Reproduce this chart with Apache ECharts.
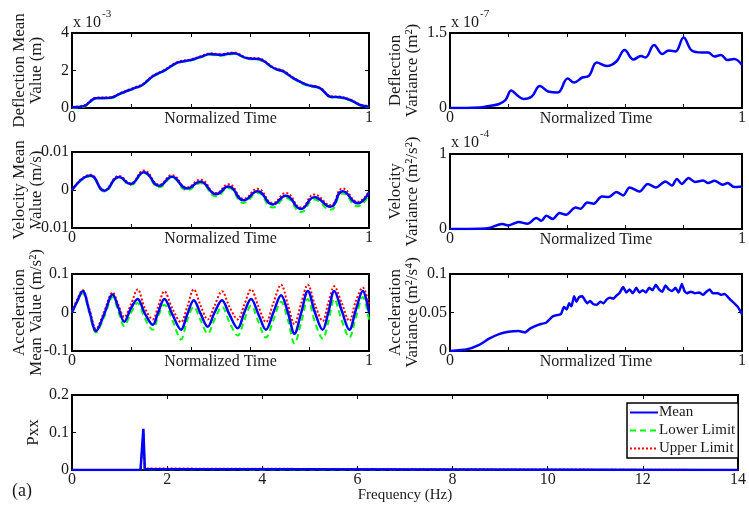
<!DOCTYPE html>
<html><head><meta charset="utf-8">
<script src="https://cdn.jsdelivr.net/npm/echarts@6/dist/echarts.min.js"></script>
<style>html,body{margin:0;padding:0;background:#fff}#c{width:749px;height:506px}</style>
</head><body><div id="c"></div>
<script>
// ---------- DATA ----------
var tDef = [0,0.04,0.08,0.13,0.164,0.208,0.237,0.27,0.31,0.355,0.4,0.436,0.466,0.5,0.545,0.59,0.629,0.68,0.713,0.746,0.791,0.836,0.87,0.903,0.936,0.97,1];
var defMean = [0.04,0.1,0.52,0.55,0.78,1.05,1.23,1.67,1.99,2.42,2.56,2.74,2.88,2.83,2.92,2.65,2.61,2.12,1.94,1.58,1.23,1.05,0.6,0.57,0.43,0.16,0.07]; // x1e-3 m
var defLow  = [0.02,0.07,0.49,0.52,0.75,1.02,1.2,1.64,1.96,2.39,2.53,2.71,2.84,2.79,2.88,2.62,2.57,2.09,1.9,1.55,1.2,1.02,0.57,0.54,0.4,0.13,0.04];
var defUp   = [0.06,0.13,0.55,0.58,0.81,1.08,1.26,1.7,2.02,2.45,2.59,2.77,2.92,2.87,2.96,2.68,2.65,2.15,1.98,1.61,1.26,1.08,0.63,0.6,0.46,0.19,0.1];

var tDefVar = [0,0.1,0.134,0.168,0.19,0.21,0.229,0.252,0.28,0.308,0.336,0.369,0.403,0.425,0.453,0.475,0.503,0.537,0.57,0.598,0.628,0.654,0.669,0.699,0.727,0.749,0.772,0.8,0.828,0.861,0.884,0.906,0.928,0.95,0.973,1];
var defVar  = [0,0.01,0.04,0.08,0.16,0.35,0.26,0.18,0.23,0.44,0.33,0.31,0.59,0.51,0.61,0.64,0.91,0.84,0.93,1.16,0.97,1.04,1.01,1.26,1.08,1.15,1.13,1.41,1.15,1.11,1.11,1.03,1.06,0.96,0.98,0.86]; // x1e-7

var tVel = [0,0.062,0.109,0.158,0.197,0.242,0.294,0.336,0.387,0.432,0.485,0.527,0.578,0.625,0.676,0.72,0.771,0.816,0.87,0.911,0.962,1];
var velMean = [0,0.0038,-0.0002,0.0034,0.0016,0.0047,0.0011,0.0035,0.0004,0.0022,-0.0011,0.0009,-0.0027,-0.0003,-0.0038,-0.0015,-0.005,-0.0019,-0.0044,-0.0003,-0.0035,-0.0006];
var velLow  = [0,0.0036,-0.0004,0.0032,0.0013,0.0044,0.0007,0.0032,-0.0001,0.0018,-0.0017,0.0005,-0.0034,-0.0008,-0.0046,-0.0021,-0.0058,-0.0025,-0.0052,-0.0009,-0.0043,-0.0011];
var velUp   = [0,0.004,0,0.0037,0.0018,0.0051,0.0014,0.0039,0.0007,0.0027,-0.0008,0.0015,-0.0023,0.0003,-0.0034,-0.0008,-0.0046,-0.0012,-0.004,0.0004,-0.0031,-0.0003];

var tVelVar = [0,0.1,0.134,0.179,0.2,0.235,0.265,0.296,0.313,0.33,0.352,0.375,0.397,0.43,0.447,0.47,0.492,0.52,0.543,0.57,0.593,0.615,0.649,0.677,0.705,0.738,0.76,0.777,0.794,0.817,0.839,0.867,0.884,0.906,0.934,0.951,0.973,1];
var velVar  = [0,0.003,0.013,0.067,0.048,0.093,0.07,0.147,0.11,0.177,0.133,0.213,0.19,0.288,0.27,0.355,0.337,0.435,0.427,0.493,0.448,0.555,0.5,0.6,0.555,0.635,0.58,0.667,0.6,0.68,0.627,0.648,0.613,0.644,0.59,0.613,0.56,0.568]; // x1e-4

var tAcc = [0,0.018,0.036,0.058,0.081,0.108,0.137,0.155,0.176,0.198,0.221,0.245,0.272,0.29,0.311,0.338,0.367,0.388,0.41,0.433,0.457,0.48,0.505,0.53,0.558,0.58,0.603,0.628,0.653,0.678,0.704,0.727,0.749,0.772,0.794,0.818,0.844,0.863,0.883,0.908,0.934,0.955,0.979,1];
var accMean = [0,0.03,0.056,0.005,-0.048,-0.005,0.047,0.015,-0.024,0.01,0.035,-0.002,-0.032,0,0.035,-0.005,-0.045,-0.005,0.032,-0.003,-0.037,0,0.032,-0.005,-0.041,0,0.035,-0.005,-0.045,0,0.045,0,-0.055,0,0.056,0,-0.045,0,0.056,0.005,-0.045,0.005,0.056,0];
var accLow  = [0,0.028,0.05,0,-0.052,-0.012,0.04,0.005,-0.035,-0.002,0.025,-0.015,-0.045,-0.01,0.02,-0.02,-0.07,-0.02,0.015,-0.02,-0.055,-0.018,0.015,-0.025,-0.06,-0.02,0.018,-0.025,-0.065,-0.02,0.028,-0.02,-0.08,-0.025,0.035,-0.025,-0.068,-0.025,0.035,-0.02,-0.065,-0.015,0.04,-0.02];
var accUp   = [0.002,0.035,0.058,0.01,-0.043,0.002,0.052,0.022,-0.012,0.02,0.06,0.012,-0.018,0.015,0.055,0.01,-0.025,0.015,0.06,0.018,-0.018,0.018,0.055,0.015,-0.018,0.02,0.06,0.015,-0.025,0.025,0.072,0.02,-0.03,0.025,0.072,0.02,-0.022,0.025,0.068,0.025,-0.022,0.028,0.065,0.02];

var tAccVar = [0,0.056,0.1,0.134,0.168,0.2,0.235,0.257,0.274,0.302,0.33,0.352,0.38,0.39,0.4,0.408,0.416,0.425,0.433,0.442,0.453,0.462,0.47,0.48,0.49,0.503,0.515,0.526,0.537,0.548,0.56,0.57,0.58,0.593,0.604,0.615,0.626,0.638,0.649,0.66,0.671,0.682,0.693,0.705,0.716,0.727,0.738,0.749,0.76,0.772,0.783,0.794,0.803,0.811,0.825,0.839,0.853,0.867,0.878,0.889,0.9,0.917,0.93,0.94,0.962,0.984,1];
var accVar  = [0,0.002,0.008,0.016,0.022,0.025,0.026,0.024,0.029,0.034,0.037,0.045,0.048,0.057,0.054,0.062,0.058,0.071,0.064,0.07,0.071,0.066,0.062,0.065,0.061,0.06,0.064,0.062,0.067,0.069,0.068,0.072,0.075,0.083,0.076,0.08,0.075,0.082,0.076,0.079,0.076,0.082,0.079,0.086,0.08,0.077,0.085,0.08,0.078,0.082,0.076,0.087,0.078,0.075,0.077,0.075,0.076,0.073,0.077,0.08,0.075,0.075,0.073,0.074,0.066,0.058,0.048];

var freq    = [0,1.44,1.47,1.5,1.53,1.56,14];
var pxxMean = [0,0,0.003,0.11,0.003,0,0];
var pxxLow  = [0,0,0.002,0.09,0.002,0,0];
var pxxUp   = [0,0,0.004,0.1,0.004,0,0];

var legendNames = ['Mean','Lower Limit','Upper Limit'];
// ---------- CHART ----------
var FONT = "'Liberation Serif', 'Times New Roman', serif";
var TXT = '#1a1a1a';
function zip(a,b){ return a.map(function(x,i){ return [x,b[i]]; }); }
var grids = [
 {left:72,top:33,width:297,height:75},
 {left:450,top:33,width:298,height:75},
 {left:72,top:152,width:297,height:76},
 {left:450,top:154,width:298,height:75},
 {left:72,top:274,width:297,height:77},
 {left:450,top:274,width:298,height:77},
 {left:72,top:395,width:676,height:75}
];
var ySpec = [
 {min:0,max:4,interval:2,name:'Deflection Mean\nValue (m)'},
 {min:0,max:1.5,interval:1.5,name:'Deflection\nVariance (m²)'},
 {min:-0.01,max:0.01,interval:0.01,name:'Velocity Mean\nValue (m/s)'},
 {min:0,max:1,interval:1,name:'Velocity\nVariance (m²/s²)'},
 {min:-0.1,max:0.1,interval:0.1,name:'Acceleration\nMean Value (m/s²)'},
 {min:0,max:0.1,interval:0.05,name:'Acceleration\nVariance (m²/s⁴)'},
 {min:0,max:0.2,interval:0.1,name:'Pxx'}
];
var tick = {show:true,inside:true,length:4,lineStyle:{color:'#000',width:1}};
var xAxes=[], yAxes=[];
grids.forEach(function(g,i){
  var isF = i===6;
  xAxes.push({type:'value',gridIndex:i,position:'bottom',min:0,max:isF?14:1,interval:isF?2:0.2,
    axisLine:{show:false,onZero:false},axisTick:tick,splitLine:{show:false},
    axisLabel:{margin:2,fontFamily:FONT,fontSize:16,color:TXT,
      formatter:isF?function(v){return String(v);}:function(v){return Math.abs(v)<1e-9?'0':(Math.abs(v-1)<1e-9?'1':'');}},
    name:isF?'Frequency (Hz)':'Normalized Time',nameLocation:'middle',nameGap:isF?18:3,nameMoveOverlap:false,
    nameTextStyle:{fontFamily:FONT,fontSize:isF?15:16,color:TXT}});
  xAxes.push({type:'value',gridIndex:i,position:'top',min:0,max:isF?14:1,interval:isF?2:0.2,
    axisLine:{show:false,onZero:false},axisTick:tick,axisLabel:{show:false},splitLine:{show:false}});
  var s=ySpec[i];
  yAxes.push({type:'value',gridIndex:i,position:'left',min:s.min,max:s.max,interval:s.interval,
    axisLine:{show:false,onZero:false},axisTick:tick,splitLine:{show:false},
    axisLabel:{margin:3,fontFamily:FONT,fontSize:16,color:TXT},
    name:s.name,nameLocation:'middle',nameRotate:90,nameGap:i===6?30:(i%2?29:27),nameMoveOverlap:false,
    nameTextStyle:{fontFamily:FONT,fontSize:17,color:TXT,lineHeight:17}});
  yAxes.push({type:'value',gridIndex:i,position:'right',min:s.min,max:s.max,interval:s.interval,
    axisLine:{show:false,onZero:false},axisTick:tick,axisLabel:{show:false},splitLine:{show:false}});
});
var BLUE='#0000ff', GREEN='#00ff00', RED='#ff0000';
function trio(gi, t, lo, up, mean, smooth, names){
  var xi=gi*2, yi=gi*2;
  return [
    {type:'line',name:names?names[1]:'lo'+gi,xAxisIndex:xi,yAxisIndex:yi,data:zip(t,lo),symbol:'none',showSymbol:false,smooth:smooth,
     lineStyle:{color:GREEN,width:2,type:[6,4]},itemStyle:{color:GREEN},z:2},
    {type:'line',name:names?names[2]:'up'+gi,xAxisIndex:xi,yAxisIndex:yi,data:zip(t,up),symbol:'none',showSymbol:false,smooth:smooth,
     lineStyle:{color:RED,width:2,type:[2,2]},itemStyle:{color:RED},z:3},
    {type:'line',name:names?names[0]:'mean'+gi,xAxisIndex:xi,yAxisIndex:yi,data:zip(t,mean),symbol:'none',showSymbol:false,smooth:smooth,
     lineStyle:{color:BLUE,width:2.5},itemStyle:{color:BLUE},z:4}
  ];
}
function single(gi,t,v,smooth){
  return {type:'line',name:'v'+gi,xAxisIndex:gi*2,yAxisIndex:gi*2,data:zip(t,v),symbol:'none',smooth:smooth,
    lineStyle:{color:BLUE,width:2.5},itemStyle:{color:BLUE},z:4};
}
var series = [].concat(
  trio(0,tDef,defLow,defUp,defMean,0.4),
  [single(1,tDefVar,defVar,0.4)],
  trio(2,tVel,velLow,velUp,velMean,0.5),
  [single(3,tVelVar,velVar,0.3)],
  trio(4,tAcc,accLow,accUp,accMean,0.35),
  [single(5,tAccVar,accVar,0.15)],
  trio(6,freq,pxxLow,pxxUp,pxxMean,false,legendNames)
);
function txt(x,y,s,fs){ return {type:'text',left:x,top:y,style:{text:s,fontFamily:FONT,fontSize:fs,fill:TXT}}; }
var option = {
  animation:false,
  backgroundColor:'#fff',
  grid: grids.map(function(g){ return Object.assign({show:true,borderColor:'#000',borderWidth:2,backgroundColor:'transparent',containLabel:false},g); }),
  xAxis:xAxes, yAxis:yAxes, series:series,
  legend:{data:legendNames,orient:'vertical',left:627,top:403,itemGap:3,itemWidth:28,itemHeight:14,
    padding:[2,3,2,2],backgroundColor:'#fff',borderColor:'#000',borderWidth:1.5,
    itemStyle:{opacity:0},
    textStyle:{fontFamily:FONT,fontSize:15,color:TXT,padding:[0,0,0,-4]}},
  graphic:[
    txt(73,15,'x 10',16), txt(102,9,'-3',11),
    txt(451,15,'x 10',16), txt(480,9,'-7',11),
    txt(451,135,'x 10',16), txt(480,129,'-4',11),
    txt(12,482,'(a)',18)
  ]
};
var chart = echarts.init(document.getElementById('c'));
window.chart = chart;
chart.setOption(option);
</script></body></html>
